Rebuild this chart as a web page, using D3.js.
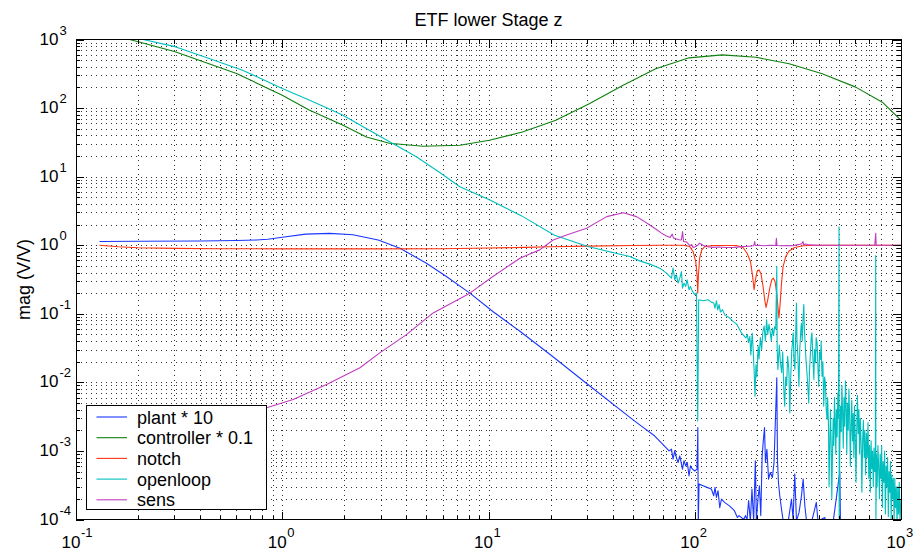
<!DOCTYPE html>
<html>
<head>
<meta charset="utf-8">
<script src="https://cdn.jsdelivr.net/npm/d3@7"></script>
<style>
  body { margin: 0; background: #fff; }
  svg { display: block; }
  text { font-family: "Liberation Sans", Arial, Helvetica, sans-serif; fill: #000; }
</style>
</head>
<body>
<svg id="chart" width="916" height="551"></svg>
<script>
// ---- data: frequency (Hz) and magnitude (V/V) for each trace ----
const seriesNames = ["plant * 10", "controller * 0.1", "notch", "openloop", "sens"];
const seriesColors = ["#1a36ff", "#0e800e", "#ff3311", "#00bfbf", "#c03cc0"];

const plantFreq = [0.13, 0.2, 0.4, 0.6, 0.75, 0.85, 1.0, 1.3, 1.7, 2.2, 2.92, 3.72, 5.0, 6.25, 8.12, 10.5, 14.2, 20.4, 29.6, 49.9, 54.1, 64, 75.1,
  77.1, 78.5, 80.0, 81.5, 83.0, 84.6, 87.2, 88.7, 90.4, 92.0, 93.8, 95.3, 97.5, 100, 102.6, 103.5, 104, 104.9, 109.7, 114.7, 120.4, 123.6, 125.4, 127.4, 129.7,
  132.2, 134.8, 139.4, 147.3, 155.3, 161.0, 164.0, 172.9, 176.1, 179.2, 182.5, 186.0, 189.4, 193.0, 196.7, 198.9, 202.6, 205.8, 209.0, 212.2, 215.3, 217.9,
  220.2, 223.8, 228.0, 232.4, 237.9, 242.3, 249.9, 251.8, 254.6, 258.4, 263.5, 268.5, 283.4, 294.4, 299.7, 305.4, 311.3, 320.4, 329.2, 335.4, 341.8, 348.3,
  368, 388.5, 395.8, 427, 435, 466, 505, 509, 608, 732, 1000];
const plantMag = [1.13, 1.14, 1.15, 1.17, 1.19, 1.22, 1.31, 1.45, 1.49, 1.42, 1.19, 0.904, 0.547, 0.350, 0.200, 0.108, 0.0556, 0.024, 0.00986, 0.00289, 0.0024, 0.00165, 0.001,
  0.00106, 0.000757, 0.00101, 0.0008, 0.000678, 0.000846, 0.000542, 0.00072, 0.000605, 0.000678, 0.000433, 0.000605, 0.000542, 0.00051, 0.000542, 0.0022, 0.00008, 0.000328, 0.00031, 0.000294, 0.000278, 0.000222, 0.000294, 0.00021, 0.000263,
  0.000149, 0.000199, 0.000178, 0.000158, 0.000136, 0.000107, 0.000114, 0.0001, 0.000114, 0.0001, 0.000189, 0.000095, 0.000278, 0.000095, 0.00072, 0.0001, 0.000199, 0.00031, 0.000114, 0.000846, 0.00148, 0.0022,
  0.000678, 0.00106, 0.000388, 0.000485, 0.00041, 0.000678, 0.0117, 0.000757, 0.000347, 0.000222, 0.00014, 0.000095, 0.00009, 0.000199, 0.0001, 0.000462, 0.000095, 0.000127, 0.000222, 0.000388, 0.000159, 0.000095,
  0.00009, 0.000178, 0.000095, 0.000107, 0.00009, 0.00008, 0.0005, 0.00008, 0.00007, 0.00007, 0.00007];

const controllerFreq = [0.13, 0.182, 0.30, 0.6, 1.0, 1.35, 1.96, 2.56, 3.30, 4.82, 7.26, 10.1, 14.6, 21.2, 30.8, 44.7, 64.7, 93.8, 136, 198, 287, 415, 603, 812, 1000];
const controllerMag = [1450, 1000, 670, 320, 154, 93.5, 56.6, 37.9, 30.7, 27.8, 28.7, 33.9, 44.8, 66.2, 116, 214, 374, 540, 597, 551, 442, 316, 202, 122, 66.2];

const notchFreq = [0.13, 0.16, 0.2, 0.3, 0.5, 1, 3, 6, 10, 15, 20, 30, 50, 70, 87.7, 94.6, 98.2, 101.1, 102.6, 103.4, 104.2, 105.6, 108.1, 111.8, 122.6,
  159.2, 171.5, 179.4, 186.2, 190.4, 194, 196.9, 200.6, 205.1, 209.7, 214.4, 218.4, 221.7, 225.9, 231.0, 236.2, 240.6, 245.1, 249.7, 253.5, 256, 259.2,
  263.1, 268.1, 276.2, 286.6, 305.2, 335, 403.6, 1000];
const notchMag = [1.0, 0.95, 0.92, 0.90, 0.89, 0.885, 0.885, 0.89, 0.91, 0.93, 0.95, 0.97, 0.99, 1.0, 1.0, 0.955, 0.81, 0.578, 0.37, 0.2, 0.37, 0.647, 0.855, 0.955, 0.99,
  0.99, 0.925, 0.763, 0.578, 0.37, 0.224, 0.313, 0.414, 0.438, 0.379, 0.25, 0.16, 0.124, 0.16, 0.237, 0.313, 0.331, 0.296, 0.2, 0.121, 0.0867, 0.136,
  0.265, 0.489, 0.684, 0.826, 0.925, 0.98, 1.0, 1.0];

const openloopFreq = [
  0.13, 0.16, 0.212, 0.305, 0.442, 0.642, 1.0, 1.35, 1.96, 2.54,
  3.30, 4.45, 5.8, 7.26, 10.1, 14.4, 20.9, 30.3, 48.4, 54.1,
  60.5, 67.7, 72.9, 77.1, 78.5, 80.0, 81.5, 83.0, 84.6, 86.2,
  87.2, 88.7, 90.4, 91.8, 93.8, 95.3, 97.5, 100.0, 101.9, 103.4,
  104.5, 109.7, 116.0, 120.4, 123.6, 125.4, 127.4, 129.3, 131.2, 133.2,
  136.2, 140.3, 146.7, 153.4, 160.4, 168.5, 176.8,
  180, 182, 185, 187, 190, 192, 194, 196, 198, 200,
  203, 205, 208, 211, 214, 217, 220, 223, 226, 229,
  232, 235, 238, 241, 244, 247, 249.9, 251, 253, 257,
  260, 264, 267, 271, 273, 276, 279, 282, 286, 289,
  292, 295, 298, 300, 303, 306, 309, 311.3, 313, 316,
  320, 323, 327, 329, 332, 335, 338, 340, 343, 346,
  350, 353, 357, 360, 364, 367, 370, 374, 378, 381,
  385, 388, 392, 396, 399, 403, 407, 410, 414, 418,
  422, 426, 430, 434, 438, 441, 445, 448, 451, 455,
  458, 462, 465, 469, 472, 476, 479, 483, 486, 490,
  494, 497, 500.8, 501.5, 505, 509, 513, 517, 521, 525,
  529, 533, 538, 542, 546, 550, 555, 559, 564, 568,
  573, 577, 582, 586, 591, 595, 600, 605, 610, 615,
  620, 625, 630, 635, 641, 646, 652, 657, 663, 668,
  674, 680, 686, 692, 698, 704, 710, 716, 722, 728,
  734, 740, 746, 751, 754, 755.5, 760, 766, 773, 779,
  786, 792, 799, 806, 812, 819, 826, 833, 840, 847,
  854, 861, 868, 875, 882, 889, 896, 903, 911, 918,
  926, 933, 941, 949, 957, 965, 973, 981, 989, 1000];
const openloopMag = [
  1800, 1400, 1000, 780, 528, 357, 193, 131, 79.1, 50.7,
  32.5, 19.7, 11.5, 7.11, 4.6, 2.7, 1.4, 0.96, 0.683, 0.591,
  0.530, 0.463, 0.392, 0.331, 0.463, 0.313, 0.370, 0.280, 0.331, 0.413,
  0.237, 0.280, 0.250, 0.313, 0.224, 0.250, 0.212, 0.190, 0.201, 0.00273,
  0.160, 0.155, 0.160, 0.148, 0.144, 0.121, 0.155, 0.114, 0.136, 0.106,
  0.115, 0.0948, 0.0886, 0.0775, 0.0694, 0.0526, 0.0445,
  0.050, 0.038, 0.047, 0.025, 0.052, 0.030, 0.015, 0.0063, 0.018, 0.012,
  0.034, 0.022, 0.045, 0.030, 0.055, 0.066, 0.040, 0.082, 0.050, 0.070,
  0.055, 0.040, 0.062, 0.048, 0.065, 0.060, 0.489, 0.030, 0.0154, 0.035,
  0.020, 0.0138, 0.028, 0.0065, 0.0045, 0.012, 0.0090, 0.024, 0.015, 0.0036,
  0.012, 0.027, 0.040, 0.053, 0.020, 0.0154, 0.060, 0.144, 0.042, 0.025,
  0.0088, 0.030, 0.060, 0.0735, 0.040, 0.090, 0.136, 0.060, 0.0376, 0.022,
  0.0138, 0.0090, 0.0050, 0.015, 0.0269, 0.045, 0.0526, 0.022, 0.011, 0.030,
  0.0193, 0.045, 0.0376, 0.015, 0.0088, 0.028, 0.0215, 0.040, 0.0123, 0.020,
  0.0045, 0.012, 0.0099, 0.0040, 0.0029, 0.0060, 0.0023, 0.00030, 0.0010, 0.0040,
  0.0015, 0.00020, 0.0008, 0.0030, 0.0012, 0.0060, 0.0026, 0.0009, 0.0040, 0.0016,
  0.0070, 0.0030, 1.86, 0.00008, 0.0011, 0.0045, 0.0019, 0.0090, 0.0035, 0.0011,
  0.0060, 0.0023, 0.0105, 0.0040, 0.0009, 0.0050, 0.0020, 0.0080, 0.0030, 0.0006,
  0.0025, 0.0055, 0.0014, 0.0035, 0.0008, 0.0045, 0.0016, 0.00035, 0.0020, 0.0065,
  0.0018, 0.0040, 0.0009, 0.0030, 0.0012, 0.00025, 0.0015, 0.0028, 0.0008, 0.0020,
  0.00045, 0.0018, 0.00080, 0.0026, 0.00040, 0.0012, 0.00025, 0.0014, 0.00055, 0.0010,
  0.00030, 0.0011, 0.00050, 0.0007, 0.706, 0.00008, 0.0009, 0.00030, 0.0012, 0.00060,
  0.00020, 0.0009, 0.00040, 0.0012, 0.00015, 0.0007, 0.00035, 0.0010, 0.00012, 0.0006,
  0.00030, 0.0008, 0.00011, 0.0005, 0.00025, 0.0007, 0.00010, 0.00045, 0.00020, 0.0004,
  0.00009, 0.00040, 0.00015, 0.0003, 0.00008, 0.00030, 0.00012, 0.00035, 0.00009, 0.00020];

const sensFreq = [0.13, 0.2, 0.44, 0.64, 0.839, 1.13, 1.64, 2.38, 2.97, 4.0, 5.39, 8.12, 10.5, 14.2, 17.7, 20.6, 23.9, 29.9, 37.4, 45.0, 52.2,
  56, 60.5, 64.7, 69, 72.9, 76, 77.8, 78.8, 81, 84, 86.1, 87.3, 88.2, 91.1, 93, 94.6, 96.5, 98.2, 100.5, 103.7, 105.6, 109.6, 115, 122.6, 130, 142.3,
  155, 165.1, 175, 185, 191.6, 194, 195.3, 196.5, 205, 215, 222.5, 235, 247, 248.8, 250.5, 262, 278.2, 300, 315, 322.8, 330, 334.9, 337, 345,
  361.4, 400, 505, 746, 754, 758, 1000];
const sensMag = [0.0006, 0.0009, 0.0019, 0.0028, 0.00427, 0.00564, 0.00931, 0.0163, 0.0269, 0.0497, 0.103, 0.200, 0.350, 0.647, 0.855, 1.19, 1.41, 1.77, 2.61, 2.98, 2.61,
  2.3, 1.97, 1.72, 1.5, 1.36, 1.3, 1.45, 1.28, 1.24, 1.2, 1.19, 1.58, 1.13, 1.12, 1.05, 0.99, 1.02, 0.93, 0.95, 1.01, 1.07, 1.0, 0.95, 0.93, 0.94, 0.925,
  0.93, 0.945, 0.96, 0.97, 0.98, 1.02, 1.13, 0.99, 1.0, 0.98, 0.99, 1.0, 0.99, 1.26, 0.99, 0.98, 0.99, 0.98, 1.02, 1.03, 1.05, 1.13, 1.02, 1.04,
  1.01, 1.0, 1.0, 1.0, 1.49, 1.0, 1.0];

const xTickExponents = [-1, 0, 1, 2, 3];
const yTickExponents = [-4, -3, -2, -1, 0, 1, 2, 3];

// ---- layout ----
const plot = { left: 76, right: 901, top: 39.5, bottom: 519.5 };
const svg = d3.select("#chart");

const x = d3.scaleLog().domain([1e-1, 1e3]).range([plot.left, plot.right]);
const y = d3.scaleLog().domain([1e-4, 1e3]).range([plot.bottom, plot.top]);

const isMajor = v => Math.abs(Math.log10(v) - Math.round(Math.log10(v))) < 1e-6;
const px = v => Math.round(v) + 0.5;

svg.append("defs").append("clipPath").attr("id", "plot-clip")
  .append("rect")
  .attr("x", plot.left).attr("y", plot.top)
  .attr("width", plot.right - plot.left).attr("height", plot.bottom - plot.top);

// dotted grid at every decade and sub-decade value
const grid = svg.append("g").attr("stroke", "#000").attr("stroke-opacity", 0.8).attr("stroke-width", 1)
  .attr("stroke-dasharray", "1,4").attr("shape-rendering", "crispEdges");
x.ticks().filter(v => v > 0.1 * 1.0001 && v < 1000 * 0.9999).forEach(v => {
  grid.append("line").attr("x1", px(x(v))).attr("x2", px(x(v)))
    .attr("y1", plot.top).attr("y2", plot.bottom);
});
y.ticks().filter(v => v > 1e-4 * 1.0001 && v < 1e3 * 0.9999).forEach(v => {
  grid.append("line").attr("y1", px(y(v))).attr("y2", px(y(v)))
    .attr("x1", plot.left).attr("x2", plot.right);
});

// traces
const series = [
  { name: seriesNames[0], color: seriesColors[0], f: plantFreq, m: plantMag },
  { name: seriesNames[1], color: seriesColors[1], f: controllerFreq, m: controllerMag },
  { name: seriesNames[2], color: seriesColors[2], f: notchFreq, m: notchMag },
  { name: seriesNames[3], color: seriesColors[3], f: openloopFreq, m: openloopMag },
  { name: seriesNames[4], color: seriesColors[4], f: sensFreq, m: sensMag }
];
const line = d3.line().x(d => x(d[0])).y(d => y(d[1]));
const traces = svg.append("g").attr("clip-path", "url(#plot-clip)");
series.forEach(s => {
  traces.append("path")
    .datum(s.f.map((f, i) => [f, s.m[i]]))
    .attr("fill", "none")
    .attr("stroke", s.color)
    .attr("stroke-width", 1.1)
    .attr("stroke-linejoin", "round")
    .attr("d", line);
});

// axes box with inward ticks on all four sides
const axes = svg.append("g").attr("stroke", "#000").attr("stroke-width", 1).attr("shape-rendering", "crispEdges");
axes.append("rect").attr("x", plot.left).attr("y", plot.top)
  .attr("width", plot.right - plot.left).attr("height", plot.bottom - plot.top)
  .attr("fill", "none");
x.ticks().forEach(v => {
  const len = isMajor(v) ? 8 : 4;
  const xx = px(x(v));
  axes.append("line").attr("x1", xx).attr("x2", xx).attr("y1", plot.bottom).attr("y2", plot.bottom - len);
  axes.append("line").attr("x1", xx).attr("x2", xx).attr("y1", plot.top).attr("y2", plot.top + len);
});
y.ticks().forEach(v => {
  const len = isMajor(v) ? 8 : 4;
  const yy = px(y(v));
  axes.append("line").attr("y1", yy).attr("y2", yy).attr("x1", plot.left).attr("x2", plot.left + len);
  axes.append("line").attr("y1", yy).attr("y2", yy).attr("x1", plot.right).attr("x2", plot.right - len);
});

// tick labels: base "10" with a raised exponent
xTickExponents.forEach(e => {
  const cx = x(Math.pow(10, e)) - 5;
  svg.append("text").attr("x", cx).attr("y", 548).attr("text-anchor", "middle")
    .attr("font-size", 17).text("10");
  svg.append("text").attr("x", cx + 10).attr("y", 537).attr("font-size", 13).text(String(e));
});
yTickExponents.forEach(e => {
  const cy = y(Math.pow(10, e));
  svg.append("text").attr("x", 58.5).attr("y", cy + 5).attr("text-anchor", "end")
    .attr("font-size", 17).text("10");
  svg.append("text").attr("x", 59.5).attr("y", cy - 5).attr("font-size", 13).text(String(e));
});

// title and axis label
svg.append("text").attr("x", (plot.left + plot.right) / 2).attr("y", 26)
  .attr("text-anchor", "middle").attr("font-size", 18).text("ETF lower Stage z");
svg.append("text")
  .attr("transform", `translate(29.5,${(plot.top + plot.bottom) / 2}) rotate(-90)`)
  .attr("text-anchor", "middle").attr("font-size", 18).text("mag (V/V)");

// legend
const legend = svg.append("g");
legend.append("rect").attr("x", 86.5).attr("y", 405.5).attr("width", 180).attr("height", 104)
  .attr("fill", "#fff").attr("stroke", "#000").attr("stroke-width", 1).attr("shape-rendering", "crispEdges");
series.forEach((s, i) => {
  const ry = 417 + i * 20.7;
  legend.append("line").attr("x1", 96.5).attr("x2", 127).attr("y1", ry).attr("y2", ry)
    .attr("stroke", s.color).attr("stroke-width", 1.1);
  legend.append("text").attr("x", 137).attr("y", ry + 6.5).attr("font-size", 18).text(s.name);
});
</script>
</body>
</html>
